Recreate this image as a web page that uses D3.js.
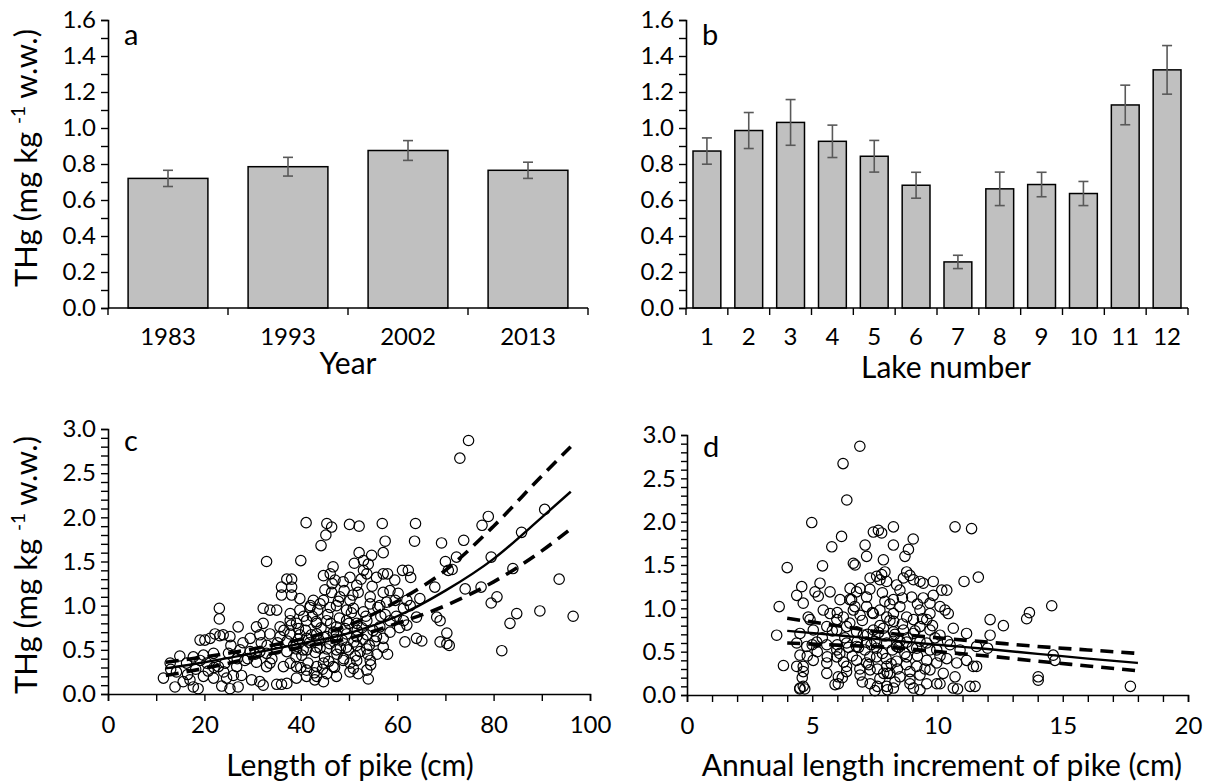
<!DOCTYPE html>
<html>
<head>
<meta charset="utf-8">
<script src="https://cdn.jsdelivr.net/npm/d3@7"></script>
<style>
  html, body { margin: 0; padding: 0; background: #fff; }
  svg text { font-family: Lato, "Open Sans", sans-serif; fill: #000; }
</style>
</head>
<body>
<svg id="chart" width="1213" height="784"></svg>
<script>
// ---------------- DATA ----------------
const yearCats = ["1983", "1993", "2002", "2013"];
const yearMeans = [0.72, 0.785, 0.875, 0.765];
const yearErr = [0.045, 0.052, 0.055, 0.045];

const lakeCats = ["1","2","3","4","5","6","7","8","9","10","11","12"];
const lakeMeans = [0.872, 0.986, 1.031, 0.926, 0.843, 0.682, 0.256, 0.662, 0.686, 0.636, 1.128, 1.323];
const lakeErr = [0.073, 0.100, 0.127, 0.090, 0.088, 0.072, 0.037, 0.093, 0.068, 0.067, 0.110, 0.135];

const barTicksY = [0,0.1,0.2,0.3,0.4,0.5,0.6,0.7,0.8,0.9,1.0,1.1,1.2,1.3,1.4,1.5,1.6];
const barLabelsY = [0,0.2,0.4,0.6,0.8,1.0,1.2,1.4,1.6];
const scatTicksY = [0,0.1,0.2,0.3,0.4,0.5,0.6,0.7,0.8,0.9,1.0,1.1,1.2,1.3,1.4,1.5,1.6,1.7,1.8,1.9,2.0,2.1,2.2,2.3,2.4,2.5,2.6,2.7,2.8,2.9,3.0];
const scatLabelsY = [0,0.5,1.0,1.5,2.0,2.5,3.0];
const lengthTicks = [0,10,20,30,40,50,60,70,80,90,100];
const lengthLabels = [0,20,40,60,80,100];
const incrTicks = [0,1,2,3,4,5,6,7,8,9,10,11,12,13,14,15,16,17,18,19,20];
const incrLabels = [0,5,10,15,20];

// panel c: [length (cm), THg]
const pikeLengthTHg = [
 [13.9,0.08],[17.7,0.08],[18.7,0.06],[23.6,0.09],[25.3,0.06],[27.0,0.08],[32.2,0.10],[35.0,0.11],[36.0,0.11],[37.1,0.12],[44.7,0.14],[54.0,0.17],[41.2,0.20],
 [11.5,0.18],[15.6,0.14],[17.0,0.16],[19.8,0.20],[21.9,0.18],[24.6,0.18],[26.0,0.21],[27.7,0.21],[29.8,0.16],[31.5,0.14],[39.1,0.18],[42.9,0.16],[43.3,0.20],[45.4,0.23],[47.4,0.20],[50.2,0.25],[50.9,0.29],[51.9,0.23],[53.7,0.27],
 [12.9,0.35],[16.3,0.35],[19.1,0.38],[20.5,0.35],[22.9,0.31],[24.3,0.35],[26.7,0.31],[28.4,0.38],[30.8,0.36],[32.9,0.31],[33.6,0.35],[36.4,0.31],[37.8,0.35],[39.1,0.31],[41.2,0.27],[43.3,0.31],[44.7,0.35],[46.7,0.31],[48.8,0.38],[50.2,0.35],[51.6,0.38],[54.4,0.38],
 [14.9,0.43],[17.7,0.42],[19.8,0.44],[21.9,0.46],[25.0,0.46],[27.4,0.50],[29.5,0.48],[31.5,0.48],[32.9,0.46],[35.0,0.51],[37.1,0.48],[39.1,0.51],[40.5,0.50],[43.3,0.53],[45.4,0.51],[47.4,0.50],[49.5,0.53],[51.6,0.55],[53.7,0.51],[57.1,0.53],
 [19.1,0.61],[20.1,0.61],[21.2,0.63],[23.2,0.66],[25.3,0.65],[29.5,0.63],[31.5,0.67],[33.6,0.68],[35.7,0.65],[37.8,0.68],[39.8,0.67],[41.2,0.63],[43.3,0.68],[45.4,0.65],[47.4,0.67],[49.5,0.68],[51.6,0.65],[53.7,0.67],[55.7,0.65],[57.1,0.63],[61.6,0.59],[64.0,0.63],[65.1,0.60],[68.9,0.59],[70.3,0.57],
 [22.2,0.68],[23.9,0.67],[27.0,0.76],[30.8,0.76],[32.2,0.80],[35.7,0.76],[37.8,0.83],[39.1,0.80],[41.2,0.83],[43.3,0.80],[45.4,0.83],[47.4,0.76],[49.5,0.83],[51.6,0.80],[53.7,0.83],[56.4,0.76],[58.5,0.83],[61.3,0.83],[64.0,0.87],[68.2,0.87],[68.9,0.83],
 [23.1,0.97],[23.1,0.85],[32.2,0.97],[33.6,0.95],[35.0,0.95],[37.8,0.91],[39.8,0.95],[41.9,0.98],[44.0,1.02],[46.1,0.98],[47.4,1.00],[49.5,0.95],[50.9,0.97],[53.0,0.93],[54.4,1.02],[56.4,1.00],[57.8,1.04],[61.3,0.97],[62.7,1.00],
 [36.0,1.12],[38.1,1.12],[36.0,1.21],[38.1,1.21],[39.8,1.08],[42.6,1.06],[44.7,1.06],[46.4,1.15],[48.1,1.10],[50.2,1.06],[51.9,1.15],[54.4,1.10],[57.1,1.15],[58.5,1.17],[60.2,1.14],[62.0,1.06],[64.7,1.08],
 [37.1,1.30],[38.1,1.30],[44.7,1.34],[46.1,1.36],[47.1,1.29],[48.8,1.27],[50.2,1.32],[51.6,1.23],[53.0,1.40],[53.7,1.36],[55.7,1.32],[57.1,1.36],[59.5,1.29],[61.1,1.40],[62.3,1.40],
 [41.1,1.94],[45.4,1.93],[46.4,1.89],[50.1,1.92],[52.1,1.90],[56.9,1.93],[63.8,1.93],[45.2,1.80],[44.2,1.68],[57.5,1.73],[63.6,1.73],[69.2,1.71],[32.9,1.50],[40.0,1.51],[52.1,1.60],[54.7,1.57],[57.1,1.60],[53.0,1.51],[54.0,1.47],[46.7,1.44],[51.1,1.48],[58.0,1.36],[70.0,1.50],
 [74.8,2.87],[73.0,2.67],[90.6,2.09],[78.9,2.01],[77.6,1.91],[85.8,1.83],[73.8,1.74],[72.3,1.55],[70.6,1.40],[71.4,1.41],[79.5,1.55],[67.8,1.21],[74.1,1.19],[77.4,1.21],[80.7,1.10],[79.5,1.03],[84.0,1.42],[93.6,1.30],[89.6,0.94],[84.8,0.91],[83.4,0.80],[96.5,0.88],[81.7,0.49],[70.3,0.69],[70.8,0.55],[62.8,1.32],[59.6,1.06],
 [38.5,0.55],[39.5,0.62],[40.2,0.44],[41.0,0.72],[41.8,0.58],[42.4,0.88],[43.0,0.47],[43.7,0.62],[44.2,0.75],[44.9,0.42],[45.6,0.90],[46.0,0.57],[46.8,0.70],[47.5,0.45],[48.0,0.86],[48.6,0.61],[49.2,0.74],[49.9,0.50],[50.5,0.92],[51.0,0.59],[51.7,0.72],[52.3,0.48],[52.9,0.62],[53.5,0.88],[54.2,0.55],[55.0,0.72],[55.8,0.45],[56.6,0.88],
 [37.2,0.60],[38.0,0.78],[39.0,0.42],[40.6,0.88],[42.0,1.00],[43.5,0.95],[45.0,1.18],[46.5,1.25],[47.8,1.05],[49.0,1.17],[50.8,1.12],[52.5,1.30],[54.8,1.22],[44.0,0.52],[45.8,0.37],[47.0,0.30],[48.2,0.52],[36.5,0.72],[35.2,0.58],[34.0,0.40],[33.0,0.55],[31.8,0.58],[30.5,0.45],[29.0,0.40],[28.0,0.58],[26.8,0.40],[25.5,0.55],[24.0,0.25],[22.0,0.30],[20.8,0.26],[18.2,0.28],[16.5,0.22],[14.2,0.25],[13.0,0.28],
 [40.0,0.30],[41.5,0.35],[42.8,0.24],[44.5,0.28],[39.5,0.74],[41.2,0.50],[42.2,0.67],[43.2,0.82],[44.8,0.64],[46.2,0.80],[47.2,0.62],[48.9,0.40],[50.0,0.80],[51.3,0.43],[52.7,0.75],[53.9,0.45],[55.4,0.60],[56.0,0.98],[57.5,0.90],[58.5,0.70],[59.8,0.88],[60.5,0.75],[62.0,0.78],[58.0,0.45],[54.5,0.33]
];

// panel c regression
const fitLenX = [12, 20, 30, 40, 50, 60, 70, 80, 90, 96];
const fitLenMid = [0.29, 0.36, 0.46, 0.57, 0.69, 0.88, 1.17, 1.53, 2.00, 2.29];
const fitLenUp = [0.36, 0.42, 0.51, 0.62, 0.78, 1.05, 1.40, 1.90, 2.47, 2.80];
const fitLenLo = [0.21, 0.29, 0.41, 0.53, 0.63, 0.80, 1.00, 1.27, 1.62, 1.87];

// panel d: [annual increment (cm), THg]
const pikeIncrTHg = [
 [4.98,1.99],[7.44,1.88],[7.64,1.90],[7.77,1.87],[8.24,1.94],[10.70,1.94],[11.36,1.92],[6.17,1.83],[5.78,1.71],[7.11,1.73],[8.24,1.73],[9.03,1.80],[8.84,1.68],[8.70,1.60],[7.17,1.60],[6.64,1.52],[6.71,1.50],[7.84,1.56],[4.00,1.47],[5.41,1.49],
 [6.90,2.87],[6.23,2.67],[6.38,2.25],
 [7.90,1.42],[7.77,1.39],[7.70,1.33],[7.97,1.31],[7.57,1.37],[8.77,1.42],[8.90,1.38],[8.64,1.35],[9.04,1.33],[9.30,1.31],[9.43,1.29],[9.83,1.31],[10.17,1.21],[10.37,1.21],[11.06,1.31],[11.63,1.36],
 [4.58,1.25],[4.38,1.15],[5.11,1.19],[5.31,1.29],[5.71,1.19],[5.24,1.14],[4.64,1.06],[6.11,1.10],[6.51,1.23],[6.57,1.10],[6.77,1.19],[6.91,1.23],[7.17,1.13],[7.31,1.35],[8.37,1.27],[8.50,1.21],[8.24,1.10],[7.90,1.08],[8.97,1.13],[9.43,1.12],[9.70,1.06],[9.83,1.15],[10.10,1.02],
 [3.68,1.02],[10.30,0.98],[10.43,0.94],
 [4.84,0.90],[4.91,0.87],[5.44,0.98],[5.71,0.94],[5.98,0.87],[6.24,0.90],[6.64,0.98],[6.91,0.92],[7.17,1.02],[7.44,0.94],[7.70,0.98],[7.97,0.90],[8.24,0.94],[8.50,1.02],[8.77,0.90],[9.04,0.87],[9.30,0.98],[9.57,0.87],[9.70,0.94],
 [12.10,0.87],[12.63,0.80],[13.56,0.88],[13.67,0.95],[14.56,1.03],
 [3.58,0.69],[4.51,0.71],[5.04,0.75],[5.58,0.79],[5.98,0.75],[6.37,0.79],[6.77,0.73],[7.04,0.69],[7.44,0.75],[7.84,0.77],[8.24,0.73],[8.64,0.75],[9.04,0.71],[9.30,0.79],[9.70,0.75],[10.10,0.69],[10.63,0.77],[11.16,0.71],[12.10,0.69],
 [4.38,0.60],[4.78,0.56],[5.18,0.61],[5.58,0.58],[5.98,0.52],[6.37,0.60],[6.77,0.56],[7.17,0.61],[7.57,0.54],[7.97,0.60],[8.37,0.56],[8.77,0.61],[9.17,0.54],[9.57,0.60],[9.97,0.52],[10.50,0.58],[10.90,0.52],[11.56,0.56],[12.00,0.54],
 [11.43,0.33],[14.62,0.46],[14.69,0.40],[14.02,0.21],[14.02,0.17],
 [4.51,0.46],[4.64,0.33],[5.04,0.40],[5.58,0.37],[5.98,0.44],[6.37,0.33],[6.77,0.40],[7.17,0.37],[7.57,0.44],[7.97,0.33],[8.37,0.39],[8.77,0.44],[9.17,0.33],[9.57,0.40],[9.97,0.37],[10.37,0.42],[10.77,0.37],[11.16,0.40],[3.85,0.34],[4.38,0.33],
 [4.64,0.27],[5.58,0.25],[6.04,0.21],[6.37,0.27],[6.91,0.23],[7.31,0.29],[7.70,0.19],[8.10,0.25],[8.50,0.21],[8.90,0.27],[9.30,0.23],[9.70,0.29],[10.23,0.25],[10.70,0.21],[11.56,0.33],
 [4.51,0.08],[4.64,0.10],[5.91,0.12],[6.04,0.13],[7.31,0.13],[7.97,0.10],[8.24,0.08],[8.90,0.13],[9.04,0.08],[9.57,0.13],[9.97,0.13],[10.63,0.08],[11.30,0.10],
 [17.70,0.10],[10.80,0.07],[11.50,0.10],[10.10,0.13],[4.50,0.07],[4.70,0.07],[4.60,0.20],
 [6.1,0.48],[6.3,0.66],[6.5,0.83],[6.6,0.45],[6.8,0.62],[6.9,0.30],[7.0,0.86],[7.1,0.52],[7.2,0.70],[7.3,0.44],[7.4,0.95],[7.5,0.62],[7.6,0.30],[7.7,0.80],[7.8,0.48],[7.9,0.68],[8.0,0.25],[8.1,0.86],[8.2,0.52],[8.3,0.70],[8.4,0.30],[8.5,0.62],[8.6,0.82],[8.7,0.48],[8.8,0.66],[8.9,0.18],[9.0,0.55],[9.1,0.74],[9.2,0.45],[9.3,0.62],[9.4,0.88],[9.5,0.30],[9.7,0.52],[9.9,0.66],[10.1,0.45],[10.4,0.62],
 [5.2,0.50],[5.4,0.66],[5.6,0.44],[5.8,0.74],[6.0,0.58],[5.0,0.58],[4.8,0.45],[6.2,0.20],[6.5,1.10],[7.3,1.22],[7.8,1.18],[8.1,1.05],[8.6,1.12],[7.0,0.15],[7.6,0.10],[8.3,0.15],[6.0,0.95],[6.7,1.02],[9.2,1.05],[9.8,0.80],[7.5,0.05],[8.0,0.06],[9.3,0.06],
 [7.35,0.58],[7.65,0.72],[7.95,0.42],[8.45,0.55],[8.15,0.36],[6.85,0.55],[7.25,0.35],[7.85,0.25],[8.25,0.85],[8.75,0.35],[6.45,0.55],[6.25,0.38]
];

// panel d regression
const fitIncX = [4, 6, 8, 10, 12, 14, 16, 18];
const fitIncMid = [0.74, 0.69, 0.635, 0.58, 0.53, 0.475, 0.42, 0.37];
const fitIncUp = [0.885, 0.80, 0.715, 0.66, 0.61, 0.56, 0.52, 0.48];
const fitIncLo = [0.60, 0.575, 0.55, 0.50, 0.45, 0.39, 0.335, 0.28];

// ---------------- DRAW ----------------
const svg = d3.select("#chart");
const TICK_FS = 24, TITLE_FS = 30, YTITLE_FS = 31;

function fmt1(v) { return d3.format(".1f")(v); }

function yAxis(g, y, ticks, labels, x0, tickLen) {
  const ax = d3.axisLeft(y).tickValues(ticks).tickSize(tickLen).tickPadding(5)
    .tickFormat(v => labels.some(l => Math.abs(l - v) < 1e-9) ? fmt1(v) : "");
  const gg = g.append("g").attr("transform", `translate(${x0},0)`).call(ax);
  gg.select(".domain").attr("stroke", "#000").attr("stroke-width", 1.6);
  gg.selectAll(".tick line").attr("stroke", "#000").attr("stroke-width", 1.4);
  gg.selectAll(".tick text").style("font-size", TICK_FS + "px").attr("fill", "#000");
  return gg;
}

function barPanel(cats, means, errs, xr, letter, xTitle, xTitleX, xTitleY, yTitle) {
  const g = svg.append("g");
  const x = d3.scaleBand().domain(cats).range(xr).paddingInner(0.335).paddingOuter(0.1675);
  const y = d3.scaleLinear().domain([0, 1.6]).range([308, 20]);
  g.selectAll("rect.bar").data(cats).join("rect")
    .attr("x", c => x(c)).attr("width", x.bandwidth())
    .attr("y", (c, i) => y(means[i])).attr("height", (c, i) => y(0) - y(means[i]))
    .attr("fill", "#c0c0c0").attr("stroke", "#000").attr("stroke-width", 1.5);
  const eb = g.append("g").attr("stroke", "#595959").attr("stroke-width", 1.6);
  cats.forEach((c, i) => {
    const cx = x(c) + x.bandwidth() / 2;
    eb.append("line").attr("x1", cx).attr("x2", cx).attr("y1", y(means[i] - errs[i])).attr("y2", y(means[i] + errs[i]));
    eb.append("line").attr("x1", cx - 5).attr("x2", cx + 5).attr("y1", y(means[i] - errs[i])).attr("y2", y(means[i] - errs[i]));
    eb.append("line").attr("x1", cx - 5).attr("x2", cx + 5).attr("y1", y(means[i] + errs[i])).attr("y2", y(means[i] + errs[i]));
  });
  yAxis(g, y, barTicksY, barLabelsY, xr[0], 7);
  const gx = g.append("g").attr("transform", `translate(0,${y(0)})`);
  gx.append("line").attr("x1", xr[0]).attr("x2", xr[1]).attr("stroke", "#000").attr("stroke-width", 1.6);
  const bounds = d3.range(cats.length + 1).map(i => xr[0] + i * x.step());
  gx.selectAll("line.t").data(bounds).join("line").attr("class", "t")
    .attr("x1", d => d).attr("x2", d => d).attr("y1", 0).attr("y2", 7)
    .attr("stroke", "#000").attr("stroke-width", 1.4);
  gx.selectAll("text").data(cats).join("text")
    .attr("x", c => x(c) + x.bandwidth() / 2).attr("y", 37)
    .attr("text-anchor", "middle").style("font-size", TICK_FS + "px").text(c => c);
  g.append("text").attr("x", xTitleX).attr("y", xTitleY).attr("text-anchor", "middle")
    .style("font-size", TITLE_FS + "px").text(xTitle);
  g.append("text").attr("x", xr[0] + 16).attr("y", 45).style("font-size", "29px").text(letter);
  if (yTitle) yTitleAt(g, 158, 37);
}

function yTitleAt(g, cy, bx) {
  const t = g.append("text").attr("transform", `translate(${bx},${cy}) rotate(-90)`)
    .attr("text-anchor", "middle").style("font-size", YTITLE_FS + "px");
  t.append("tspan").text("THg (mg kg ");
  t.append("tspan").attr("dy", -12).style("font-size", "19px").text("-1");
  t.append("tspan").attr("dy", 12).text(" w.w.)");
}

function scatterPanel(data, xr, yr, xDomain, xTicks, xLabels, fitX, mid, up, lo, letter, xTitle, xTitleX, yTitle, yTickLen) {
  const g = svg.append("g");
  const x = d3.scaleLinear().domain(xDomain).range(xr);
  const y = d3.scaleLinear().domain([0, 3]).range(yr);
  g.append("g").selectAll("circle").data(data).join("circle")
    .attr("cx", d => x(d[0])).attr("cy", d => y(d[1])).attr("r", 5.2)
    .attr("fill", "none").attr("stroke", "#000").attr("stroke-width", 1.2);
  const line = d3.line().x((d, i) => x(fitX[i])).y(d => y(d)).curve(d3.curveMonotoneX);
  g.append("path").attr("d", line(mid)).attr("fill", "none").attr("stroke", "#000").attr("stroke-width", 2.4);
  [up, lo].forEach(arr => g.append("path").attr("d", line(arr)).attr("fill", "none")
    .attr("stroke", "#000").attr("stroke-width", 3.6).attr("stroke-dasharray", "13,8"));
  yAxis(g, y, scatTicksY, scatLabelsY, xr[0], yTickLen);
  const ax = d3.axisBottom(x).tickValues(xTicks).tickSize(7).tickPadding(15)
    .tickFormat(v => xLabels.includes(v) ? String(v) : "");
  const gx = g.append("g").attr("transform", `translate(0,${yr[0]})`).call(ax);
  gx.select(".domain").attr("stroke", "#000").attr("stroke-width", 1.6);
  gx.selectAll(".tick line").attr("stroke", "#000").attr("stroke-width", 1.4);
  gx.selectAll(".tick text").style("font-size", TICK_FS + "px").attr("fill", "#000");
  g.append("text").attr("x", xTitleX).attr("y", 776).attr("text-anchor", "middle")
    .style("font-size", TITLE_FS + "px").text(xTitle);
  g.append("text").attr("x", xr[0] + 16).attr("y", yr[1] + 22).style("font-size", "29px").text(letter);
  if (yTitle) yTitleAt(g, 565, 37);
}

barPanel(yearCats, yearMeans, yearErr, [108, 588], "a", "Year", 348, 374, true);
barPanel(lakeCats, lakeMeans, lakeErr, [686, 1188], "b", "Lake number", 946, 378, false);
scatterPanel(pikeLengthTHg, [108, 590], [694, 429], [0, 100], lengthTicks, lengthLabels,
  fitLenX, fitLenMid, fitLenUp, fitLenLo, "c", "Length of pike (cm)", 350, true, 7);
scatterPanel(pikeIncrTHg, [687, 1188], [695, 435], [0, 20], incrTicks, incrLabels,
  fitIncX, fitIncMid, fitIncUp, fitIncLo, "d", "Annual length increment of pike (cm)", 942, false, 6);
</script>
</body>
</html>
